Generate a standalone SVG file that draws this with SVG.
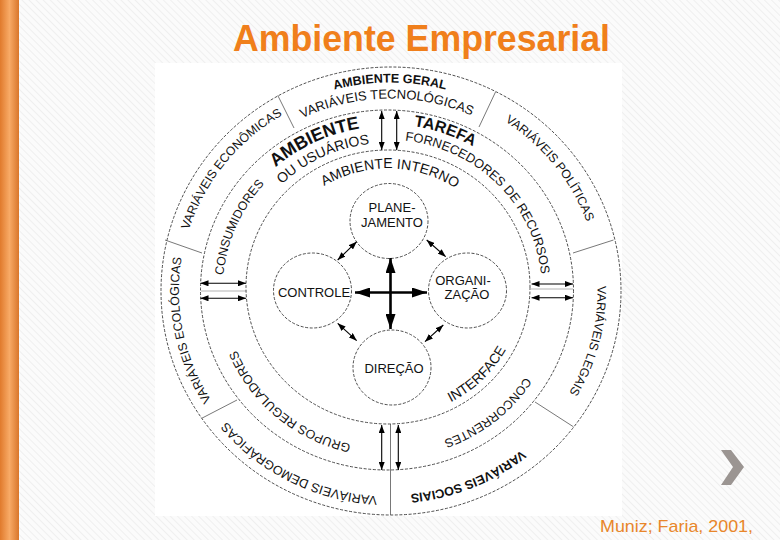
<svg xmlns="http://www.w3.org/2000/svg" width="780" height="540" viewBox="0 0 780 540">
<defs>
<pattern id="stripes" patternUnits="userSpaceOnUse" width="5" height="5" patternTransform="rotate(-45)">
<rect width="5" height="5" fill="#fbfbfb"/>
<line x1="0" y1="0" x2="0" y2="5" stroke="#ececec" stroke-width="1.6"/>
</pattern>
<linearGradient id="bar" x1="0" y1="0" x2="1" y2="0">
<stop offset="0" stop-color="#e07a2c"/>
<stop offset="0.5" stop-color="#f8aa66"/>
<stop offset="1" stop-color="#d9762a"/>
</linearGradient>
<marker id="ah" viewBox="0 0 8 6" refX="8" refY="3" markerWidth="8" markerHeight="6" markerUnits="userSpaceOnUse" orient="auto-start-reverse">
<path d="M0,0 L8,3 L0,6 z" fill="#000"/>
</marker>
<marker id="big" viewBox="0 0 15 10" refX="15" refY="5" markerWidth="15" markerHeight="10" markerUnits="userSpaceOnUse" orient="auto-start-reverse">
<path d="M0,0 L15,5 L0,10 z" fill="#000"/>
</marker>
<path id="p1" d="M204.02,186.75 A214.76,208.5 0 0 1 575.98,186.75"/>
<path id="p2" d="M216.58,197.67 A198.28,192.5 0 0 1 559.96,191.86"/>
<path id="p3" d="M194.97,368.27 A210.64,204.5 0 0 1 418.59,88.39"/>
<path id="p4" d="M361.80,89.85 A209.09,203 0 0 1 583.52,367.87"/>
<path id="p5" d="M321.95,485.06 A211.15,205 0 0 1 250.92,136.76"/>
<path id="p6" d="M534.70,146.54 A207.55,201.5 0 0 1 446.51,484.89"/>
<path id="p7" d="M504.06,464.11 A211.67,205.5 0 0 1 178.55,300.32"/>
<path id="p8" d="M598.37,317.27 A210.12,204 0 0 1 262.38,453.06"/>
<path id="p9" d="M219.04,278.03 A168.41,163.5 0 0 1 481.66,154.77"/>
<path id="p10" d="M277.10,162.84 A170.98,166 0 0 1 555.38,261.17"/>
<path id="p11" d="M236.00,279.23 A151.41,147 0 0 1 472.10,168.42"/>
<path id="p12" d="M348.58,144.20 A155.02,150.5 0 0 1 536.27,330.60"/>
<path id="p13" d="M255.62,385.77 A164.29,159.5 0 0 1 367.26,131.65"/>
<path id="p14" d="M440.93,439.07 A162.74,158 0 0 1 227.06,260.80"/>
<path id="p15" d="M549.70,264.56 A164.8,160 0 0 1 328.34,439.52"/>
<path id="p16" d="M283.48,225.79 A122.06,118.5 0 0 1 494.86,229.73"/>
<path id="p17" d="M353.66,413.17 A134.42,130.5 0 0 0 517.72,252.78"/>
</defs>
<style>
.t{font-family:"Liberation Sans",Arial,sans-serif;fill:#111}
.b{font-weight:bold}
.ring{fill:none;stroke:#3a3a3a;stroke-width:0.9;stroke-dasharray:3 1.6}
.div{stroke:#555;stroke-width:0.8;fill:none}
.sep{stroke:#aaa;stroke-width:0.9}
.arr{stroke:#000;stroke-width:1.1;marker-start:url(#ah);marker-end:url(#ah)}
.bigarr{stroke:#000;stroke-width:2.6;marker-start:url(#big);marker-end:url(#big)}
</style>

<rect width="780" height="540" fill="url(#stripes)"/>
<rect x="0" y="0" width="19" height="540" fill="url(#bar)"/>
<rect x="155" y="63" width="467" height="453" fill="#fff"/>

<text x="421.5" y="51" class="b" font-family="Liberation Sans, Arial, sans-serif" font-size="36" fill="#f07f1b" text-anchor="middle" textLength="377" lengthAdjust="spacingAndGlyphs">Ambiente Empresarial</text>

<g id="ambiente-geral">
<ellipse class="ring" cx="391" cy="291" rx="230" ry="224"/>
<line class="div" x1="277.8" y1="95.5" x2="294" y2="128"/>
<line class="div" x1="495.5" y1="92" x2="479" y2="127"/>
<line class="div" x1="165" y1="240" x2="202" y2="253"/>
<line class="div" x1="613.5" y1="240" x2="573" y2="253"/>
<line class="div" x1="201.7" y1="418.3" x2="237" y2="400"/>
<line class="div" x1="535" y1="402" x2="573.3" y2="426.7"/>
<line class="div" x1="390.5" y1="424" x2="390.5" y2="515"/>
<text class="t b" font-size="12.5"><textPath href="#p1" startOffset="50%" text-anchor="middle">AMBIENTE GERAL</textPath></text>
<text class="t" font-size="13"><textPath href="#p2" startOffset="50%" text-anchor="middle">VARIÁVEIS TECNOLÓGICAS</textPath></text>
<text class="t" font-size="12.3"><textPath href="#p3" startOffset="50%" text-anchor="middle">VARIÁVEIS ECONÔMICAS</textPath></text>
<text class="t" font-size="12.3"><textPath href="#p4" startOffset="50%" text-anchor="middle">VARIÁVEIS POLÍTICAS</textPath></text>
<text class="t" font-size="12.3"><textPath href="#p5" startOffset="50%" text-anchor="middle">VARIÁVEIS ECOLÓGICAS</textPath></text>
<text class="t" font-size="12.3"><textPath href="#p6" startOffset="50%" text-anchor="middle">VARIÁVEIS LEGAIS</textPath></text>
<text class="t" font-size="12.7"><textPath href="#p7" startOffset="50%" text-anchor="middle">VARIÁVEIS DEMOGRÁFICAS</textPath></text>
<text class="t b" font-size="12.5"><textPath href="#p8" startOffset="50%" text-anchor="middle">VARIÁVEIS SOCIAIS</textPath></text>
</g>

<g id="ambiente-tarefa">
<ellipse class="ring" cx="387" cy="290" rx="186.5" ry="180"/>
<line class="sep" x1="201" y1="291" x2="246" y2="291"/>
<line class="sep" x1="531" y1="289" x2="573" y2="289"/>
<text class="t b" font-size="18"><textPath href="#p9" startOffset="50%" text-anchor="middle">AMBIENTE</textPath></text>
<text class="t b" font-size="16"><textPath href="#p10" startOffset="50%" text-anchor="middle">TAREFA</textPath></text>
<text class="t" font-size="14"><textPath href="#p11" startOffset="50%" text-anchor="middle">OU USUÁRIOS</textPath></text>
<text class="t" font-size="12.8"><textPath href="#p12" startOffset="50%" text-anchor="middle">FORNECEDORES DE RECURSOS</textPath></text>
<text class="t" font-size="12.3"><textPath href="#p13" startOffset="50%" text-anchor="middle">CONSUMIDORES</textPath></text>
<text class="t" font-size="12.5"><textPath href="#p14" startOffset="50%" text-anchor="middle">GRUPOS REGULADORES</textPath></text>
<text class="t" font-size="12.3"><textPath href="#p15" startOffset="50%" text-anchor="middle">CONCORRENTES</textPath></text>
</g>

<g id="ambiente-interno">
<ellipse class="ring" cx="388" cy="287" rx="142" ry="137"/>
<text class="t" font-size="14"><textPath href="#p16" startOffset="50%" text-anchor="middle">AMBIENTE INTERNO</textPath></text>
<text class="t" font-size="13.8"><textPath href="#p17" startOffset="50%" text-anchor="middle">INTERFACE</textPath></text>
</g>

<g id="planejamento">
<ellipse class="ring" cx="389" cy="221" rx="39" ry="37.5"/>
<text class="t" font-size="13" x="392" y="211.7" text-anchor="middle">PLANE-</text>
<text class="t" font-size="13" x="392" y="226.7" text-anchor="middle">JAMENTO</text>
</g>
<g id="controle">
<ellipse class="ring" cx="312.5" cy="290.5" rx="39" ry="37.5"/>
<text class="t" font-size="13" x="314" y="296.7" text-anchor="middle">CONTROLE</text>
</g>
<g id="organizacao">
<ellipse class="ring" cx="467.5" cy="290.5" rx="39" ry="37.5"/>
<text class="t" font-size="13" x="463" y="285" text-anchor="middle">ORGANI-</text>
<text class="t" font-size="13" x="467" y="298.5" text-anchor="middle">ZAÇÃO</text>
</g>
<g id="direcao">
<ellipse class="ring" cx="392" cy="367.5" rx="39" ry="37.5"/>
<text class="t" font-size="13" x="394" y="373.3" text-anchor="middle">DIREÇÃO</text>
</g>

<g id="connectors">
<line class="bigarr" x1="355" y1="292.5" x2="427" y2="292.5"/>
<line class="bigarr" x1="390.5" y1="258" x2="390.5" y2="329"/>
<line class="arr" x1="356.7" y1="241.7" x2="337.7" y2="260"/>
<line class="arr" x1="426.7" y1="240" x2="445.7" y2="256.7"/>
<line class="arr" x1="337.7" y1="323.3" x2="356.7" y2="340.7"/>
<line class="arr" x1="443.3" y1="325" x2="425" y2="341.7"/>
<line class="arr" x1="381.7" y1="111" x2="381.7" y2="150"/>
<line class="arr" x1="396.7" y1="111" x2="396.7" y2="150"/>
<line class="arr" x1="200.5" y1="283.3" x2="246" y2="283.3"/>
<line class="arr" x1="200.5" y1="298.3" x2="246" y2="298.3"/>
<line class="arr" x1="531.5" y1="284" x2="573" y2="284"/>
<line class="arr" x1="531.5" y1="297.7" x2="573" y2="297.7"/>
<line class="arr" x1="381.7" y1="425" x2="381.7" y2="470"/>
<line class="arr" x1="398.3" y1="425" x2="398.3" y2="470"/>
</g>

<polygon points="721,450 731,450 744,467 731,485 721,485 733,467" fill="#9b9592"/>
<text x="600" y="532" font-family="Liberation Sans, Arial, sans-serif" font-size="17" fill="#e8862a" textLength="153" lengthAdjust="spacingAndGlyphs">Muniz; Faria, 2001,</text>
</svg>
